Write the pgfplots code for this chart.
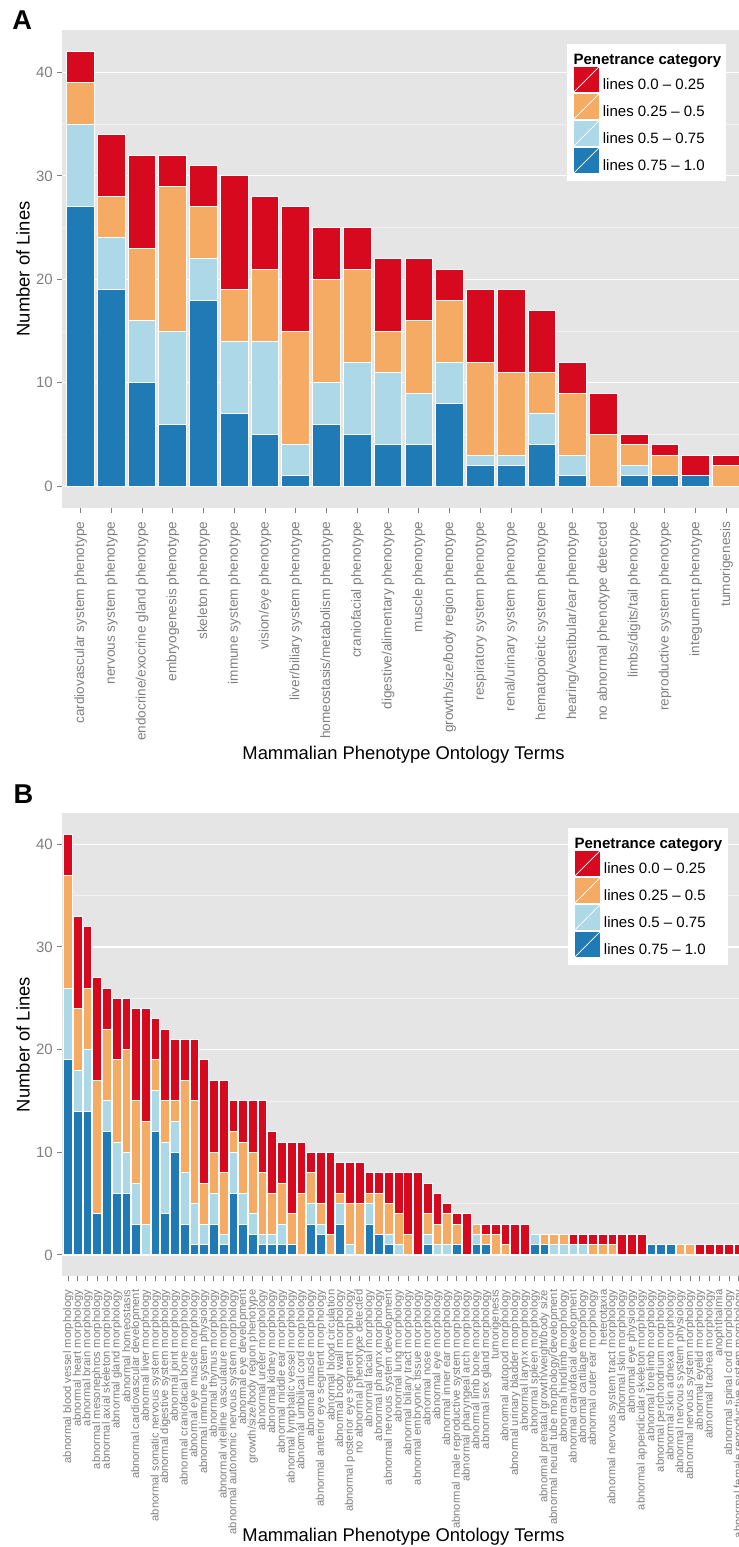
\documentclass[border=0pt]{standalone}
\usepackage{fontspec}
\setmainfont{Liberation Sans}
\usepackage{pgfplots}
\pgfplotsset{compat=1.18}
\usepackage{pgfplotstable}

\definecolor{cRed}{HTML}{D6091E}
\definecolor{cOrange}{HTML}{F5AB63}
\definecolor{cLBlue}{HTML}{ADD8E8}
\definecolor{cBlue}{HTML}{1F7AB5}
\definecolor{panelbg}{HTML}{E5E5E5}
\definecolor{minorgrid}{HTML}{F2F2F2}
\definecolor{ticktxt}{HTML}{7F7F7F}

\pgfplotstableread{
x blue lb or red
0 27 8 4 3
1 19 5 4 6
2 10 6 7 9
3 6 9 14 3
4 18 4 5 4
5 7 7 5 11
6 5 9 7 7
7 1 3 11 12
8 6 4 10 5
9 5 7 9 4
10 4 7 4 7
11 4 5 7 6
12 8 4 6 3
13 2 1 9 7
14 2 1 8 8
15 4 3 4 6
16 1 2 6 3
17 0 0 5 4
18 1 1 2 1
19 1 0 2 1
20 1 0 0 2
21 0 0 2 1
}\dataA

\pgfplotstableread{
x blue lb or red
0 19 7 11 4
1 14 4 6 9
2 14 6 6 6
3 4 0 13 10
4 12 3 7 4
5 6 5 8 6
6 6 4 10 5
7 3 4 8 9
8 0 3 10 11
9 12 4 3 4
10 4 7 4 7
11 10 3 2 6
12 3 5 9 4
13 1 4 10 6
14 1 2 4 12
15 3 3 4 7
16 1 1 6 9
17 6 4 2 3
18 3 3 5 4
19 2 2 6 5
20 1 1 6 7
21 1 1 4 6
22 1 2 4 4
23 1 0 3 7
24 0 0 6 5
25 3 2 3 2
26 2 1 2 5
27 0 0 2 8
28 3 2 1 3
29 0 1 4 4
30 0 0 5 4
31 3 2 1 2
32 2 0 4 2
33 1 1 3 3
34 0 1 3 4
35 0 0 2 6
36 0 0 0 8
37 1 1 2 3
38 0 1 2 3
39 0 1 3 1
40 1 0 2 1
41 0 0 0 4
42 1 1 1 0
43 1 0 1 1
44 0 0 2 1
45 0 0 1 2
46 0 0 0 3
47 0 0 0 3
48 1 1 0 0
49 1 0 1 0
50 0 1 1 0
51 0 1 1 0
52 0 1 0 1
53 0 1 0 1
54 0 0 1 1
55 0 0 1 1
56 0 0 1 1
57 0 0 0 2
58 0 0 0 2
59 0 0 0 2
60 1 0 0 0
61 1 0 0 0
62 1 0 0 0
63 0 0 1 0
64 0 0 1 0
65 0 0 0 1
66 0 0 0 1
67 0 0 0 1
68 0 0 0 1
69 0 0 0 1
}\dataB

\pgfplotsset{
 mystyle/.style={
  scale only axis,
  ybar stacked,
  bar width=0.9,
  axis background/.style={fill=panelbg},
  axis line style={draw=none},
  tick align=outside,
  xtick pos=left, ytick pos=left,
  major tick length=3.75pt,
  minor tick length=0pt,
  tick style={color=ticktxt, line width=0.75pt},
  ymajorgrids, yminorgrids,
  major grid style={white, line width=0.9pt},
  minor grid style={minorgrid, line width=0.6pt},
  ytick={0,10,20,30,40},
  minor ytick={5,15,25,35},
  /pgf/number format/assume math mode=true,
  yticklabel style={font=\fontsize{11.25}{13}\selectfont, text=ticktxt},
  xticklabel shift=3pt,
  every axis plot/.append style={draw=white, line width=0.75pt},
  ylabel={Number of Lines},
  xlabel={Mammalian Phenotype Ontology Terms},
  ylabel style={font=\fontsize{13.8}{16}\selectfont, at={(axis description cs:-0.058,0.5)}, anchor=center},
  legend image code/.code={
    \path[##1] (0pt,-5.75pt) rectangle (19.5pt,13.75pt);
    \draw[white, line width=0.6pt] (0pt,-5.75pt) -- (19.5pt,13.75pt);
  },
  reverse legend,
  legend cell align=left,
  legend style={anchor=north west, draw=none, fill=white,
    font=\fontsize{11.25}{13}\selectfont,
    inner xsep=4pt, inner ysep=5pt,
    row sep=0pt,
    nodes={inner sep=0pt},
    /tikz/every odd column/.append style={column sep=2.5pt}},
 }
}

\begin{document}
\begin{tikzpicture}
\path[use as bounding box] (0,0) rectangle (554.25pt,-1160.25pt);

\node[anchor=base west, font=\bfseries\fontsize{20.4}{24}\selectfont, inner sep=0pt] at (9pt,-22.1pt) {A};

\begin{axis}[mystyle,
  at={(46.875pt,-22.5pt)}, anchor=north west,
  width=511.5pt, height=358.5pt,
  xmin=-0.585, xmax=21.585, ymin=-2.1, ymax=44.1,
  xtick={0,...,21},
  xticklabel style={rotate=90, anchor=east, font=\fontsize{10.2}{12}\selectfont, text=ticktxt},
  xticklabels={cardiovascular system phenotype, nervous system phenotype, endocrine/exocrine gland phenotype, embryogenesis phenotype, skeleton phenotype, immune system phenotype, vision/eye phenotype, liver/biliary system phenotype, homeostasis/metabolism phenotype, craniofacial phenotype, digestive/alimentary phenotype, muscle phenotype, growth/size/body region phenotype, respiratory system phenotype, renal/urinary system phenotype, hematopoietic system phenotype, hearing/vestibular/ear phenotype, no abnormal phenotype detected, limbs/digits/tail phenotype, reproductive system phenotype, integument phenotype, tumorigenesis},
  xlabel style={font=\fontsize{13.8}{16}\selectfont, at={(axis description cs:0.5,-0.5257)}, anchor=base},
  legend style={at={(axis description cs:0.7397,0.9707)}},
]
\addplot[fill=cBlue] table[x=x,y=blue]{\dataA};
\addlegendentry{lines 0.75 -- 1.0}
\addplot[fill=cLBlue] table[x=x,y=lb]{\dataA};
\addlegendentry{lines 0.5 -- 0.75}
\addplot[fill=cOrange] table[x=x,y=or]{\dataA};
\addlegendentry{lines 0.25 -- 0.5}
\addplot[fill=cRed] table[x=x,y=red]{\dataA};
\addlegendentry{lines 0.0 -- 0.25}
\addlegendimage{empty legend}
\addlegendentry{\hspace*{-22pt}\textbf{Penetrance category}\rule[-3.8pt]{0pt}{13.8pt}}
\end{axis}

\node[anchor=base west, font=\bfseries\fontsize{20.4}{24}\selectfont, inner sep=0pt] at (10pt,-602.25pt) {B};

\begin{axis}[mystyle,
  at={(46.875pt,-609.75pt)}, anchor=north west,
  width=511.5pt, height=347.25pt,
  xmin=-0.58, xmax=69.58, ymin=-2.05, ymax=43.05,
  xtick={0,...,69},
  xticklabel style={rotate=90, anchor=east, font=\fontsize{8.4}{10}\selectfont, text=ticktxt},
  xticklabels={abnormal blood vessel morphology, abnormal heart morphology, abnormal brain morphology, abnormal mesonephros morphology, abnormal axial skeleton morphology, abnormal gland morphology, abnormal homeostasis, abnormal cardiovascular development, abnormal liver morphology, abnormal somatic nervous system morphology, abnormal digestive system morphology, abnormal joint morphology, abnormal craniofacial bone morphology, abnormal eye muscle morphology, abnormal immune system physiology, abnormal thymus morphology, abnormal vitelline vasculature morphology, abnormal autonomic nervous system morphology, abnormal eye development, growth/size/body region phenotype, abnormal ureter morphology, abnormal kidney morphology, abnormal middle ear morphology, abnormal lymphatic vessel morphology, abnormal umbilical cord morphology, abnormal muscle morphology, abnormal anterior eye segment morphology, abnormal blood circulation, abnormal body wall morphology, abnormal posterior eye segment morphology, no abnormal phenotype detected, abnormal facial morphology, abnormal pharynx morphology, abnormal nervous system development, abnormal lung morphology, abnormal biliary tract morphology, abnormal embryonic tissue morphology, abnormal nose morphology, abnormal eye morphology, abnormal inner ear morphology, abnormal male reproductive system morphology, abnormal pharyngeal arch morphology, abnormal limb bone morphology, abnormal sex gland morphology, tumorigenesis, abnormal autopod morphology, abnormal urinary bladder morphology, abnormal larynx morphology, abnormal spleen morphology, abnormal prenatal growth/weight/body size, abnormal neural tube morphology/development, abnormal hindlimb morphology, abnormal craniofacial development, abnormal cartilage morphology, abnormal outer ear morphology, heterotaxia, abnormal nervous system tract morphology, abnormal skin morphology, abnormal eye physiology, abnormal appendicular skeleton morphology, abnormal forelimb morphology, abnormal perichondrium morphology, abnormal skin adnexa morphology, abnormal nervous system physiology, abnormal nervous system morphology, abnormal eyelid morphology, abnormal trachea morphology, anophthalmia, abnormal spinal cord morphology, abnormal female reproductive system morphology},
  xlabel style={font=\fontsize{13.8}{16}\selectfont, at={(axis description cs:0.5,-0.5724)}, anchor=base},
  legend style={at={(axis description cs:0.7412,0.9676)}},
]
\addplot[fill=cBlue] table[x=x,y=blue]{\dataB};
\addlegendentry{lines 0.75 -- 1.0}
\addplot[fill=cLBlue] table[x=x,y=lb]{\dataB};
\addlegendentry{lines 0.5 -- 0.75}
\addplot[fill=cOrange] table[x=x,y=or]{\dataB};
\addlegendentry{lines 0.25 -- 0.5}
\addplot[fill=cRed] table[x=x,y=red]{\dataB};
\addlegendentry{lines 0.0 -- 0.25}
\addlegendimage{empty legend}
\addlegendentry{\hspace*{-22pt}\textbf{Penetrance category}\rule[-3.8pt]{0pt}{13.8pt}}
\end{axis}
\end{tikzpicture}
\end{document}
